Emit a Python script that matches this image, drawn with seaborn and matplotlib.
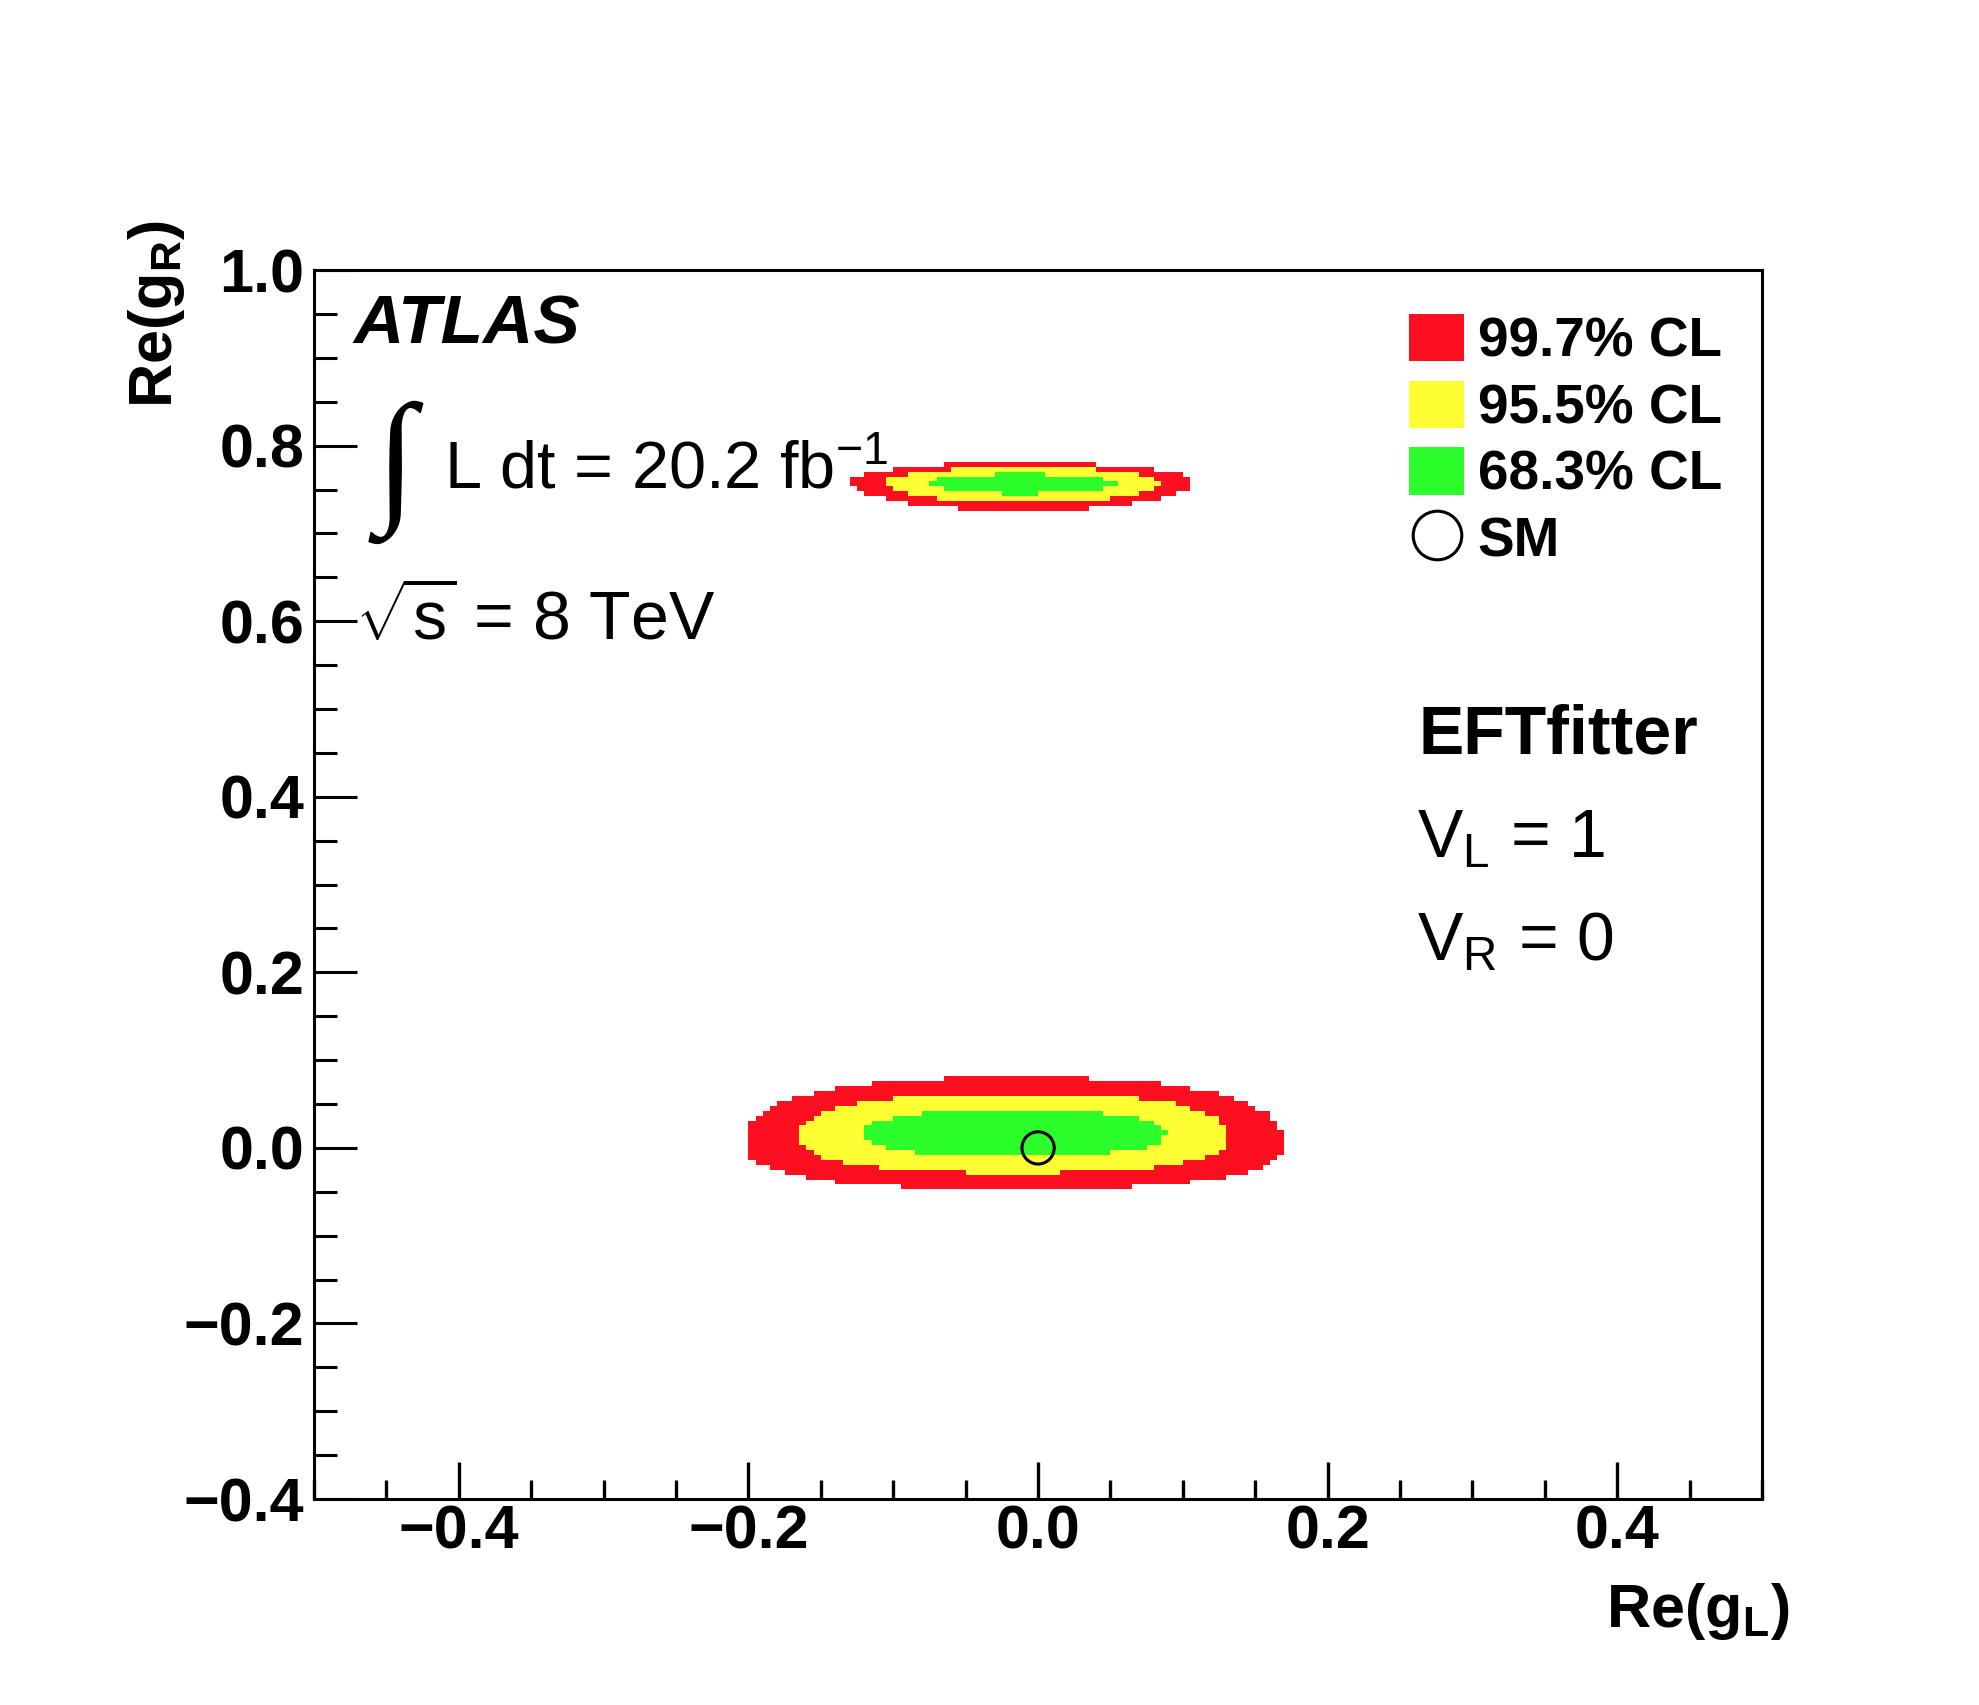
import numpy as np
import matplotlib
matplotlib.use("Agg")
import matplotlib.pyplot as plt
import seaborn as sns
from matplotlib.colors import ListedColormap
from matplotlib.patches import Patch
from matplotlib.lines import Line2D
from matplotlib.ticker import MultipleLocator, FuncFormatter

# confidence levels (outer to inner)
cl_labels = ['99.7% CL', '95.5% CL', '68.3% CL']
cl_colors = ['#fd0f1f', '#fefe33', '#2bfe2b']

# region near the SM point: extent of each CL band
low_x_lo = [-0.202, -0.164, -0.119]
low_x_hi = [0.169, 0.131, 0.088]
low_y_lo = [-0.047, -0.028, -0.009]
low_y_hi = [0.080, 0.062, 0.043]
low_y_mid = [0.005, 0.012, 0.016]

# second region at large Re(gR)
up_x_lo = [-0.130, -0.106, -0.076]
up_x_hi = [0.107, 0.083, 0.053]
up_y_lo = [0.726, 0.734, 0.745]
up_y_hi = [0.781, 0.776, 0.768]
up_y_mid = [0.759, 0.758, 0.757]

sm_x = [0.0]
sm_y = [0.0]

sns.set_theme(style='ticks')
plt.rcParams['font.family'] = ['Liberation Sans', 'DejaVu Sans']
plt.rcParams['mathtext.fontset'] = 'custom'
plt.rcParams['mathtext.rm'] = 'Liberation Sans'
plt.rcParams['mathtext.it'] = 'Liberation Sans:italic'
plt.rcParams['mathtext.bf'] = 'Liberation Sans:bold'
plt.rcParams['mathtext.default'] = 'regular'
plt.rcParams['text.color'] = 'black'
plt.rcParams['axes.labelcolor'] = 'black'
plt.rcParams['xtick.color'] = 'black'
plt.rcParams['ytick.color'] = 'black'

fig = plt.figure(figsize=(19.79, 17.05), dpi=100)
ax = fig.add_axes([0.1587, 0.1208, 0.7317, 0.7208])

# binned likelihood map (coarse bins like the original histogram)
xe = np.linspace(-0.5, 0.5, 201)
ye = np.linspace(-0.4, 1.0, 251)
xc = (xe[:-1] + xe[1:]) / 2
yc = (ye[:-1] + ye[1:]) / 2
X, Y = np.meshgrid(xc, yc)
level = np.zeros(X.shape)

regions = [(low_x_lo, low_x_hi, low_y_lo, low_y_hi, low_y_mid, 2.5),
           (up_x_lo, up_x_hi, up_y_lo, up_y_hi, up_y_mid, 2.0)]
for x_lo, x_hi, y_lo, y_hi, y_mid, p in regions:
    for i in range(len(cl_labels)):
        xm = (x_lo[i] + x_hi[i]) / 2
        a = (x_hi[i] - x_lo[i]) / 2
        b = np.where(Y >= y_mid[i], y_hi[i] - y_mid[i], y_mid[i] - y_lo[i])
        inside = (np.abs(X - xm) / a) ** p + (np.abs(Y - y_mid[i]) / b) ** p <= 1
        level[inside] = np.maximum(level[inside], i + 1)

ax.pcolormesh(xe, ye, np.ma.masked_equal(level, 0), cmap=ListedColormap(cl_colors),
              vmin=0.5, vmax=3.5, shading='flat', antialiased=False)

sns.scatterplot(x=sm_x, y=sm_y, ax=ax, marker='o', s=32 ** 2 / 1.9,
                facecolors='none', edgecolor='black', linewidth=2.2, zorder=5)

ax.set_xlim(-0.5, 0.5)
ax.set_ylim(-0.4, 1.0)

for sp in ax.spines.values():
    sp.set_linewidth(2.2)
    sp.set_color('black')
    sp.set_visible(True)

minus = FuncFormatter(lambda v, pos: ('%.1f' % v).replace('-', '\u2212'))
ax.xaxis.set_major_locator(MultipleLocator(0.2))
ax.xaxis.set_minor_locator(MultipleLocator(0.05))
ax.yaxis.set_major_locator(MultipleLocator(0.2))
ax.yaxis.set_minor_locator(MultipleLocator(0.05))
ax.xaxis.set_major_formatter(minus)
ax.yaxis.set_major_formatter(minus)
ax.tick_params(axis='x', which='major', direction='in', length=27, width=2.4,
               pad=4, labelsize=44, colors='black')
ax.tick_params(axis='x', which='minor', direction='in', length=13.5, width=2.4)
ax.tick_params(axis='y', which='major', direction='in', length=31, width=2.2,
               pad=7, labelsize=44, colors='black')
ax.tick_params(axis='y', which='minor', direction='in', length=16.5, width=2.2)
ax.tick_params(top=False, right=False, which='both')
for lab in ax.get_xticklabels() + ax.get_yticklabels():
    lab.set_fontweight('bold')

ax.set_xlabel('Re(g$_L$)', fontsize=44, fontweight='bold', loc='right')
ax.xaxis.label.set_va('baseline')
ax.xaxis.set_label_coords(1.019, -0.1039)
ax.set_ylabel('Re(g$_R$)', fontsize=44, fontweight='bold', loc='top')
ax.yaxis.label.set_va('baseline')
ax.yaxis.set_label_coords(-0.098, 1.0407)

# annotations
ax.text(0.0269, 0.9406, 'ATLAS', transform=ax.transAxes, fontsize=50,
        fontweight='bold', fontstyle='italic', va='baseline', ha='left')
ax.text(0.056, 0.8356, '\u222b', transform=ax.transAxes, fontsize=105,
        family=['Liberation Serif', 'DejaVu Serif'], fontstyle='italic',
        ha='center', va='center')
ax.text(0.0898, 0.8226, r'L dt = 20.2 fb$^{-1}$', transform=ax.transAxes,
        fontsize=48, va='baseline', ha='left')
ax.text(0.0283, 0.699, r'$\sqrt{s}$ = 8 TeV', transform=ax.transAxes,
        fontsize=49, va='baseline', ha='left')
ax.text(0.7624, 0.607, 'EFTfitter', transform=ax.transAxes, fontsize=49,
        fontweight='bold', va='baseline', ha='left')
ax.text(0.762, 0.5226, r'V$_L$ = 1', transform=ax.transAxes, fontsize=49,
        va='baseline', ha='left')
ax.text(0.762, 0.4386, r'V$_R$ = 0', transform=ax.transAxes, fontsize=49,
        va='baseline', ha='left')

handles = [Patch(facecolor=c, edgecolor='none') for c in cl_colors]
handles.append(Line2D([], [], marker='o', ls='none', mfc='none', mec='black',
                      ms=35, mew=2.2))
ax.legend(handles, cl_labels + ['SM'], loc='upper left',
          bbox_to_anchor=(0.7562, 0.9642), frameon=False, borderpad=0,
          borderaxespad=0, handlelength=1.0, handleheight=0.95,
          handletextpad=0.25, labelspacing=0.22,
          prop={'family': 'Liberation Sans', 'weight': 'bold', 'size': 39.5})

fig.savefig('out.png', dpi=100, facecolor='white')
